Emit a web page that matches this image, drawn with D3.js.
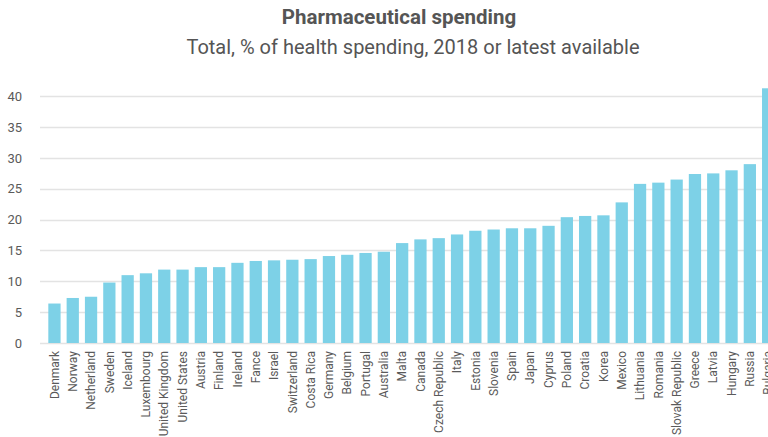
<!DOCTYPE html>
<html>
<head>
<meta charset="utf-8">
<script src="https://cdn.jsdelivr.net/npm/d3@7"></script>
<style>
	body { margin: 0; background: #fff; }
	svg { display: block; font-family: Roboto, "Liberation Sans", sans-serif; }
</style>
</head>
<body>
<svg width="768" height="437"></svg>
<script>
const countries = ["Denmark", "Norway", "Netherland", "Sweden", "Iceland", "Luxembourg", "United Kingdom",
	"United States", "Austria", "Finland", "Ireland", "Fance", "Israel", "Switzerland", "Costa Rica",
	"Germany", "Belgium", "Portugal", "Australia", "Malta", "Canada", "Czech Republic", "Italy", "Estonia",
	"Slovenia", "Spain", "Japan", "Cyprus", "Poland", "Croatia", "Korea", "Mexico", "Lithuania", "Romania",
	"Slovak Republic", "Greece", "Latvia", "Hungary", "Russia", "Bulgaria"]

const spending = [6.4, 7.3, 7.5, 9.8, 11.0, 11.3, 11.9, 11.9, 12.3, 12.3, 13.0, 13.3, 13.4, 13.5, 13.6,
	14.1, 14.3, 14.6, 14.8, 16.2, 16.8, 17.0, 17.6, 18.2, 18.4, 18.6, 18.6, 19.0, 20.4, 20.6, 20.7, 22.8,
	25.8, 26.0, 26.5, 27.4, 27.5, 28.0, 29.0, 41.3]

const yTicks = [0, 5, 10, 15, 20, 25, 30, 35, 40]

const svg = d3.select("svg"),
	width = +svg.attr("width"),
	height = +svg.attr("height");

const x = d3.scaleBand()
	.domain(countries)
	.range([45.3, 777.3])
	.paddingInner(0.33)
	.paddingOuter(0.165)

const y = d3.scaleLinear()
	.domain([0, 40])
	.range([343, 96.3])

// gridlines
svg.append("g")
	.selectAll("line")
	.data(yTicks)
	.join("line")
	.attr("x1", 40)
	.attr("x2", width)
	.attr("y1", d => Math.round(y(d)) + 0.5)
	.attr("y2", d => Math.round(y(d)) + 0.5)
	.attr("stroke", "#e3e3e3")
	.attr("stroke-width", 1.3)

// y labels
svg.append("g")
	.selectAll("text")
	.data(yTicks)
	.join("text")
	.attr("x", 22)
	.attr("y", d => y(d))
	.attr("dy", "0.35em")
	.attr("text-anchor", "end")
	.attr("font-size", 13)
	.attr("fill", "#5a5a5a")
	.text(d => d)

// bars
svg.append("g")
	.selectAll("rect")
	.data(spending)
	.join("rect")
	.attr("x", (d, i) => x(countries[i]))
	.attr("y", d => y(d))
	.attr("width", x.bandwidth())
	.attr("height", d => y(0) - y(d))
	.attr("fill", "#7dd1e7")

// x labels
svg.append("g")
	.selectAll("text")
	.data(countries)
	.join("text")
	.attr("transform", d => "translate(" + (x(d) + x.bandwidth() / 2) + ",351) rotate(-90)")
	.attr("dy", "0.35em")
	.attr("text-anchor", "end")
	.attr("font-size", 12)
	.attr("fill", "#5a5a5a")
	.text(d => d)

// titles
svg.append("text")
	.attr("x", 399)
	.attr("y", 24)
	.attr("text-anchor", "middle")
	.attr("font-size", 20.5)
	.attr("font-weight", "bold")
	.attr("fill", "#555")
	.text("Pharmaceutical spending")

svg.append("text")
	.attr("x", 413)
	.attr("y", 54)
	.attr("text-anchor", "middle")
	.attr("font-size", 20)
	.attr("fill", "#555")
	.text("Total, % of health spending, 2018 or latest available")
</script>
</body>
</html>
